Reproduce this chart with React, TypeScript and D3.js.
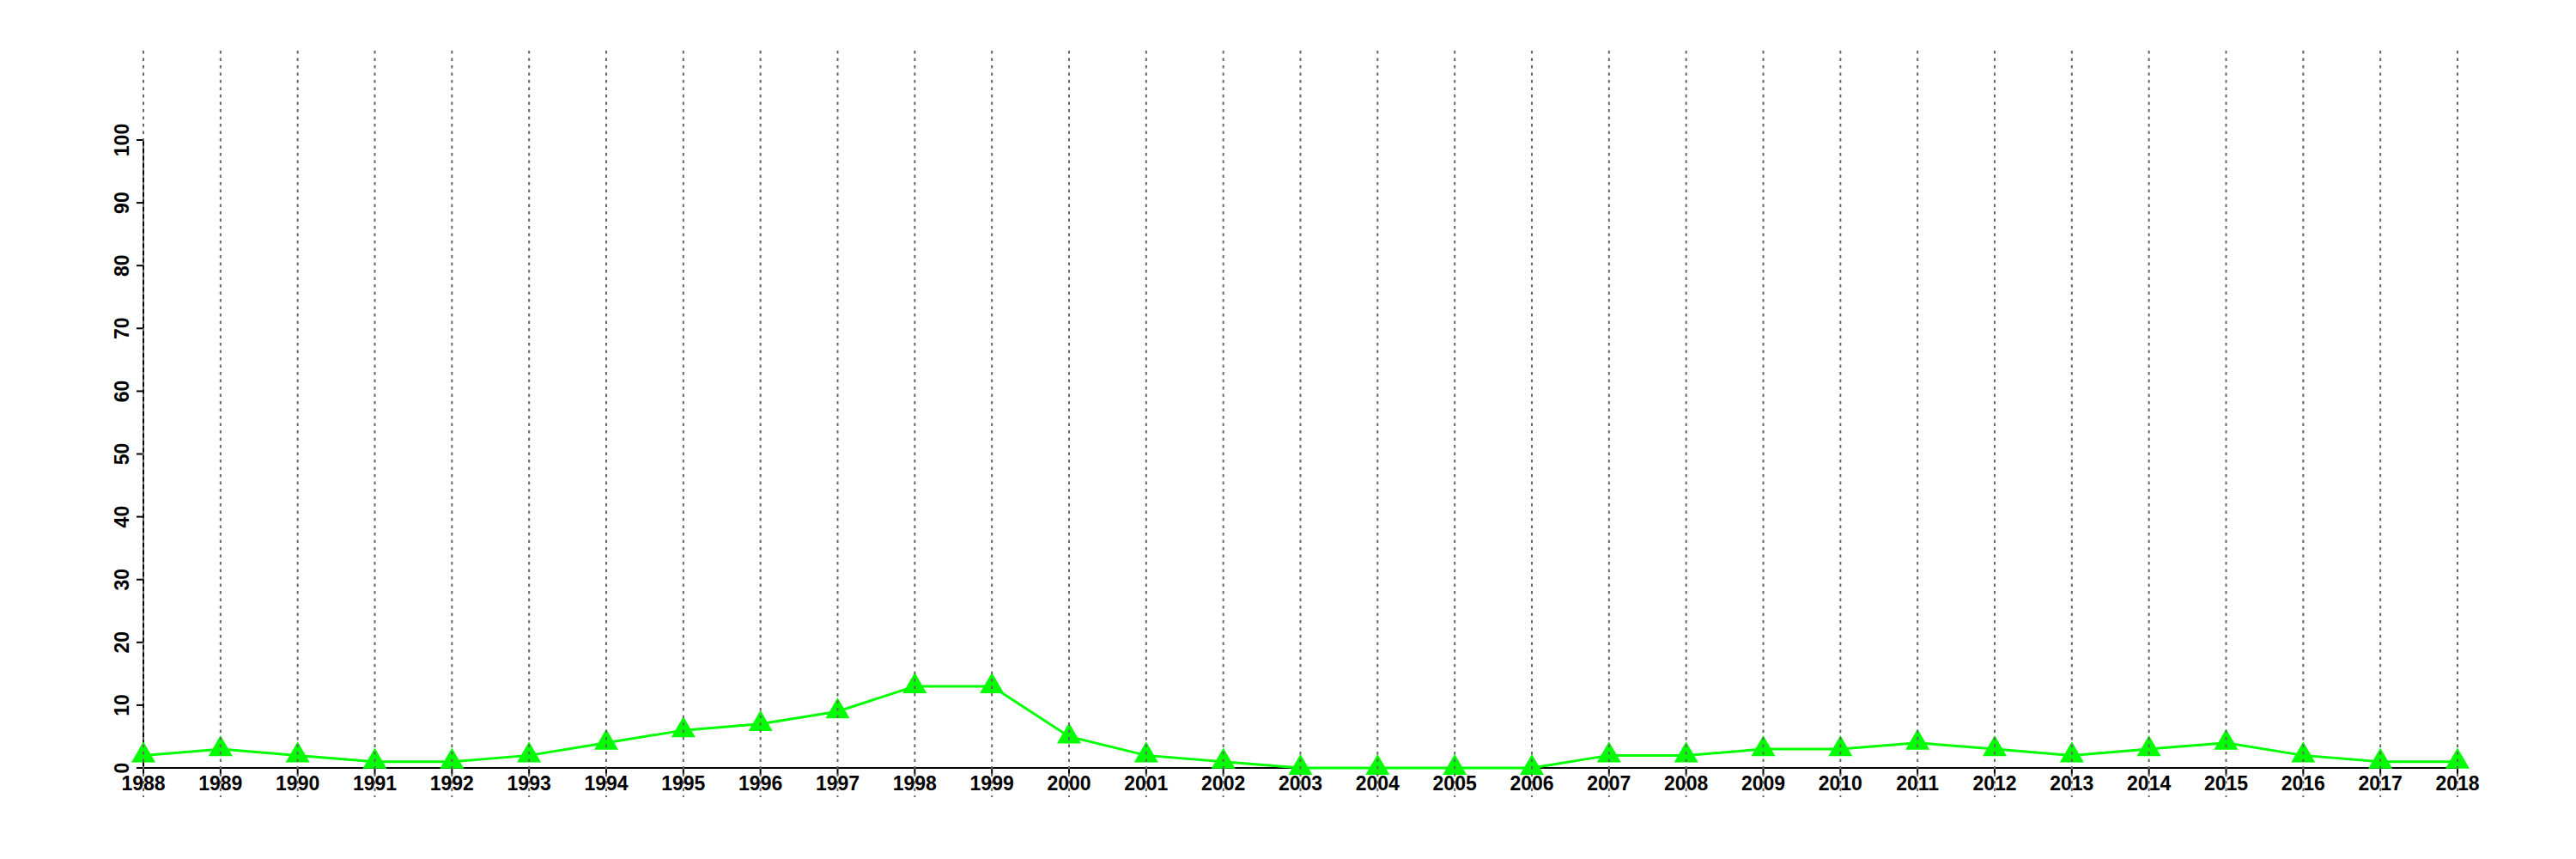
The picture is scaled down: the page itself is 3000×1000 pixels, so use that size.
import React from 'react';
import * as d3 from 'd3';

const years = [1988, 1989, 1990, 1991, 1992, 1993, 1994, 1995, 1996, 1997, 1998, 1999, 2000, 2001, 2002, 2003,
  2004, 2005, 2006, 2007, 2008, 2009, 2010, 2011, 2012, 2013, 2014, 2015, 2016, 2017, 2018];
const counts = [2, 3, 2, 1, 1, 2, 4, 6, 7, 9, 13, 13, 5, 2, 1, 0, 0, 0, 0, 2, 2, 3, 3, 4, 3, 2, 3, 4, 2, 1, 1];
const yTicks = [0, 10, 20, 30, 40, 50, 60, 70, 80, 90, 100];

export default function App() {
  const width = 3000;
  const height = 1000;

  const x = d3.scaleLinear().domain([1988, 2018]).range([167, 2862]);
  const y = d3.scaleLinear().domain([0, 100]).range([894, 163]);

  const line = d3.line<number>()
    .x((d, i) => x(years[i]))
    .y(d => y(d));

  const tri = d3.symbol().type(d3.symbolTriangle).size(340);

  const font = '"Liberation Sans", Arial, sans-serif';

  return (
    <svg width={width} height={height} style={{ position: 'absolute', left: 0, top: 0, background: '#fff' }}>
      {/* y axis */}
      <line x1={x(1988)} x2={x(1988)} y1={y(100)} y2={y(0)} stroke="#000" strokeWidth={2} />
      {yTicks.map(t => (
        <g key={t}>
          <line x1={x(1988) - 8} x2={x(1988)} y1={y(t)} y2={y(t)} stroke="#000" strokeWidth={2} />
          <text
            transform={`translate(150,${y(t)}) rotate(-90)`}
            textAnchor="middle"
            fontFamily={font}
            fontWeight="bold"
            fontSize={23}
          >{t}</text>
        </g>
      ))}

      {/* x axis */}
      <line x1={x(1988)} x2={x(2018)} y1={y(0)} y2={y(0)} stroke="#000" strokeWidth={2} />
      {years.map(yr => (
        <g key={yr}>
          <line x1={x(yr)} x2={x(yr)} y1={y(0)} y2={y(0) + 8} stroke="#000" strokeWidth={2} />
          <text x={x(yr)} y={920} textAnchor="middle" fontFamily={font} fontWeight="bold" fontSize={23}>{yr}</text>
        </g>
      ))}

      {/* series */}
      <path d={line(counts) || ''} fill="none" stroke="#00ff00" strokeWidth={3} />
      {counts.map((c, i) => (
        <path key={i} d={tri() || ''} transform={`translate(${x(years[i])},${y(c)})`} fill="#00ff00" />
      ))}

      {/* vertical grid, drawn on top like the original */}
      {years.map(yr => (
        <line key={'g' + yr} x1={x(yr)} x2={x(yr)} y1={59} y2={928}
          stroke="#666" strokeWidth={2} strokeDasharray="3.5,5" />
      ))}
    </svg>
  );
}
